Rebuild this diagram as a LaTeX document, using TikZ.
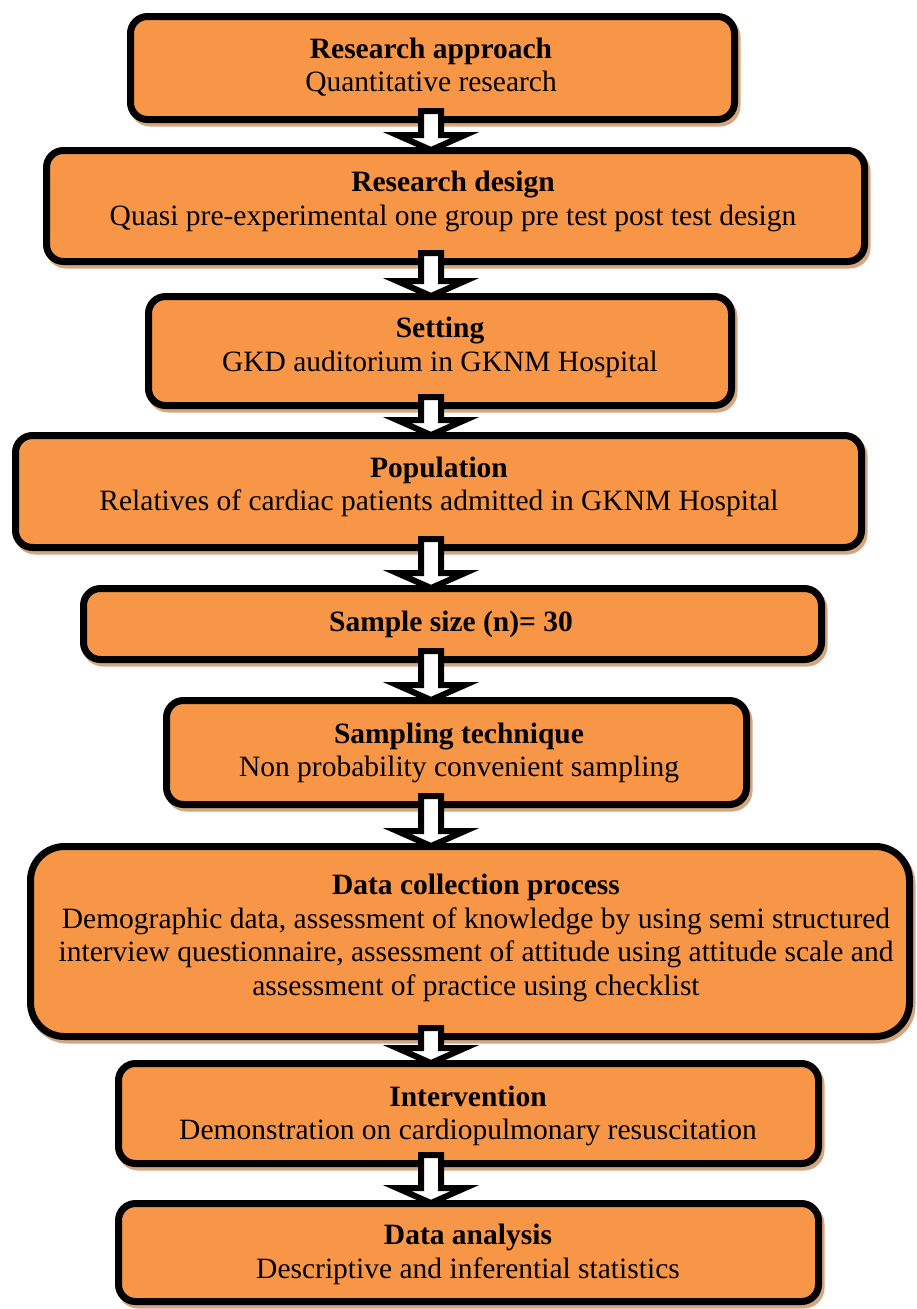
\documentclass[tikz,border=0pt]{standalone}
\usepackage{fontspec}
\setmainfont{Liberation Serif}
\usetikzlibrary{calc,shadows}
\definecolor{boxfill}{RGB}{247,150,70}
\definecolor{shadowtan}{RGB}{212,166,130}
\tikzset{
  stepbox/.style={rectangle, draw=black, line width=7pt, fill=boxfill, inner sep=0pt,
    rounded corners=17pt,
    general shadow={draw=shadowtan, line width=7pt, fill=shadowtan, shadow xshift=2.5pt, shadow yshift=-3.5pt}},
  bigbox/.style={stepbox, rounded corners=34pt},
  label/.style={align=center, font=\fontsize{29.5}{33.5}\selectfont, inner sep=0pt},
  blockarr/.style={draw=black, line width=6pt, fill=white, line join=miter, miter limit=10},
}
\newcommand\blockarrow[2]{%
  \path[blockarr] let \p1=(ax |- #1.south), \p2=(ax |- #2.north) in
    (\x1-10pt,\y1+12pt) -- (\x1-10pt,\y2+12pt) -- (\x1-34pt,\y2+12pt) -- (\x1,\y2-3pt)
    -- (\x1+34pt,\y2+12pt) -- (\x1+10pt,\y2+12pt) -- (\x1+10pt,\y1+12pt) -- cycle;}
\begin{document}
\begin{tikzpicture}[x=1pt,y=-1pt]
\useasboundingbox (0,0) rectangle (917,1309);
\coordinate (ax) at (431,0);
\node[stepbox, minimum width=604pt, minimum height=103pt] (b1) at (432.5,68) {};
\node[stepbox, minimum width=818pt, minimum height=111pt] (b2) at (455.5,206) {};
\node[stepbox, minimum width=583pt, minimum height=109pt] (b3) at (440,351) {};
\node[stepbox, minimum width=846pt, minimum height=112pt] (b4) at (438.5,491.5) {};
\node[stepbox, minimum width=738pt, minimum height=71pt] (b5) at (452.5,624) {};
\node[stepbox, minimum width=580pt, minimum height=104pt] (b6) at (456.5,752.5) {};
\node[bigbox, minimum width=879pt, minimum height=190pt] (b7) at (470,941.5) {};
\node[stepbox, minimum width=700pt, minimum height=100pt] (b8) at (468.5,1113.5) {};
\node[stepbox, minimum width=700pt, minimum height=98pt] (b9) at (468.5,1252.5) {};

\node[label] (t1) at (431,67) {\textbf{Research approach}\\Quantitative research};
\node[label] (t2) at (453,201.5) {\textbf{Research design}\\Quasi pre-experimental one group pre test post test design};
\node[label] (t3) at (440,347.5) {\textbf{Setting}\\GKD auditorium in GKNM Hospital};
\node[label] (t4) at (439,487) {\textbf{Population}\\Relatives of cardiac patients admitted in GKNM Hospital};
\node[label] (t5) at (451,624) {\textbf{Sample size (n)= 30}};
\node[label] (t6) at (459,753) {\textbf{Sampling technique}\\Non probability convenient sampling};
\node[label] (t7) at (476,938) {\textbf{Data collection process}\\Demographic data, assessment of knowledge by using semi structured\\interview questionnaire, assessment of attitude using attitude scale and\\assessment of practice using checklist};
\node[label] (t8) at (468,1116) {\textbf{Intervention}\\Demonstration on cardiopulmonary resuscitation};
\node[label] (t9) at (468,1254.5) {\textbf{Data analysis}\\Descriptive and inferential statistics};

\blockarrow{b1}{b2}
\blockarrow{b2}{b3}
\blockarrow{b3}{b4}
\blockarrow{b4}{b5}
\blockarrow{b5}{b6}
\blockarrow{b6}{b7}
\blockarrow{b7}{b8}
\blockarrow{b8}{b9}
\end{tikzpicture}
\end{document}
